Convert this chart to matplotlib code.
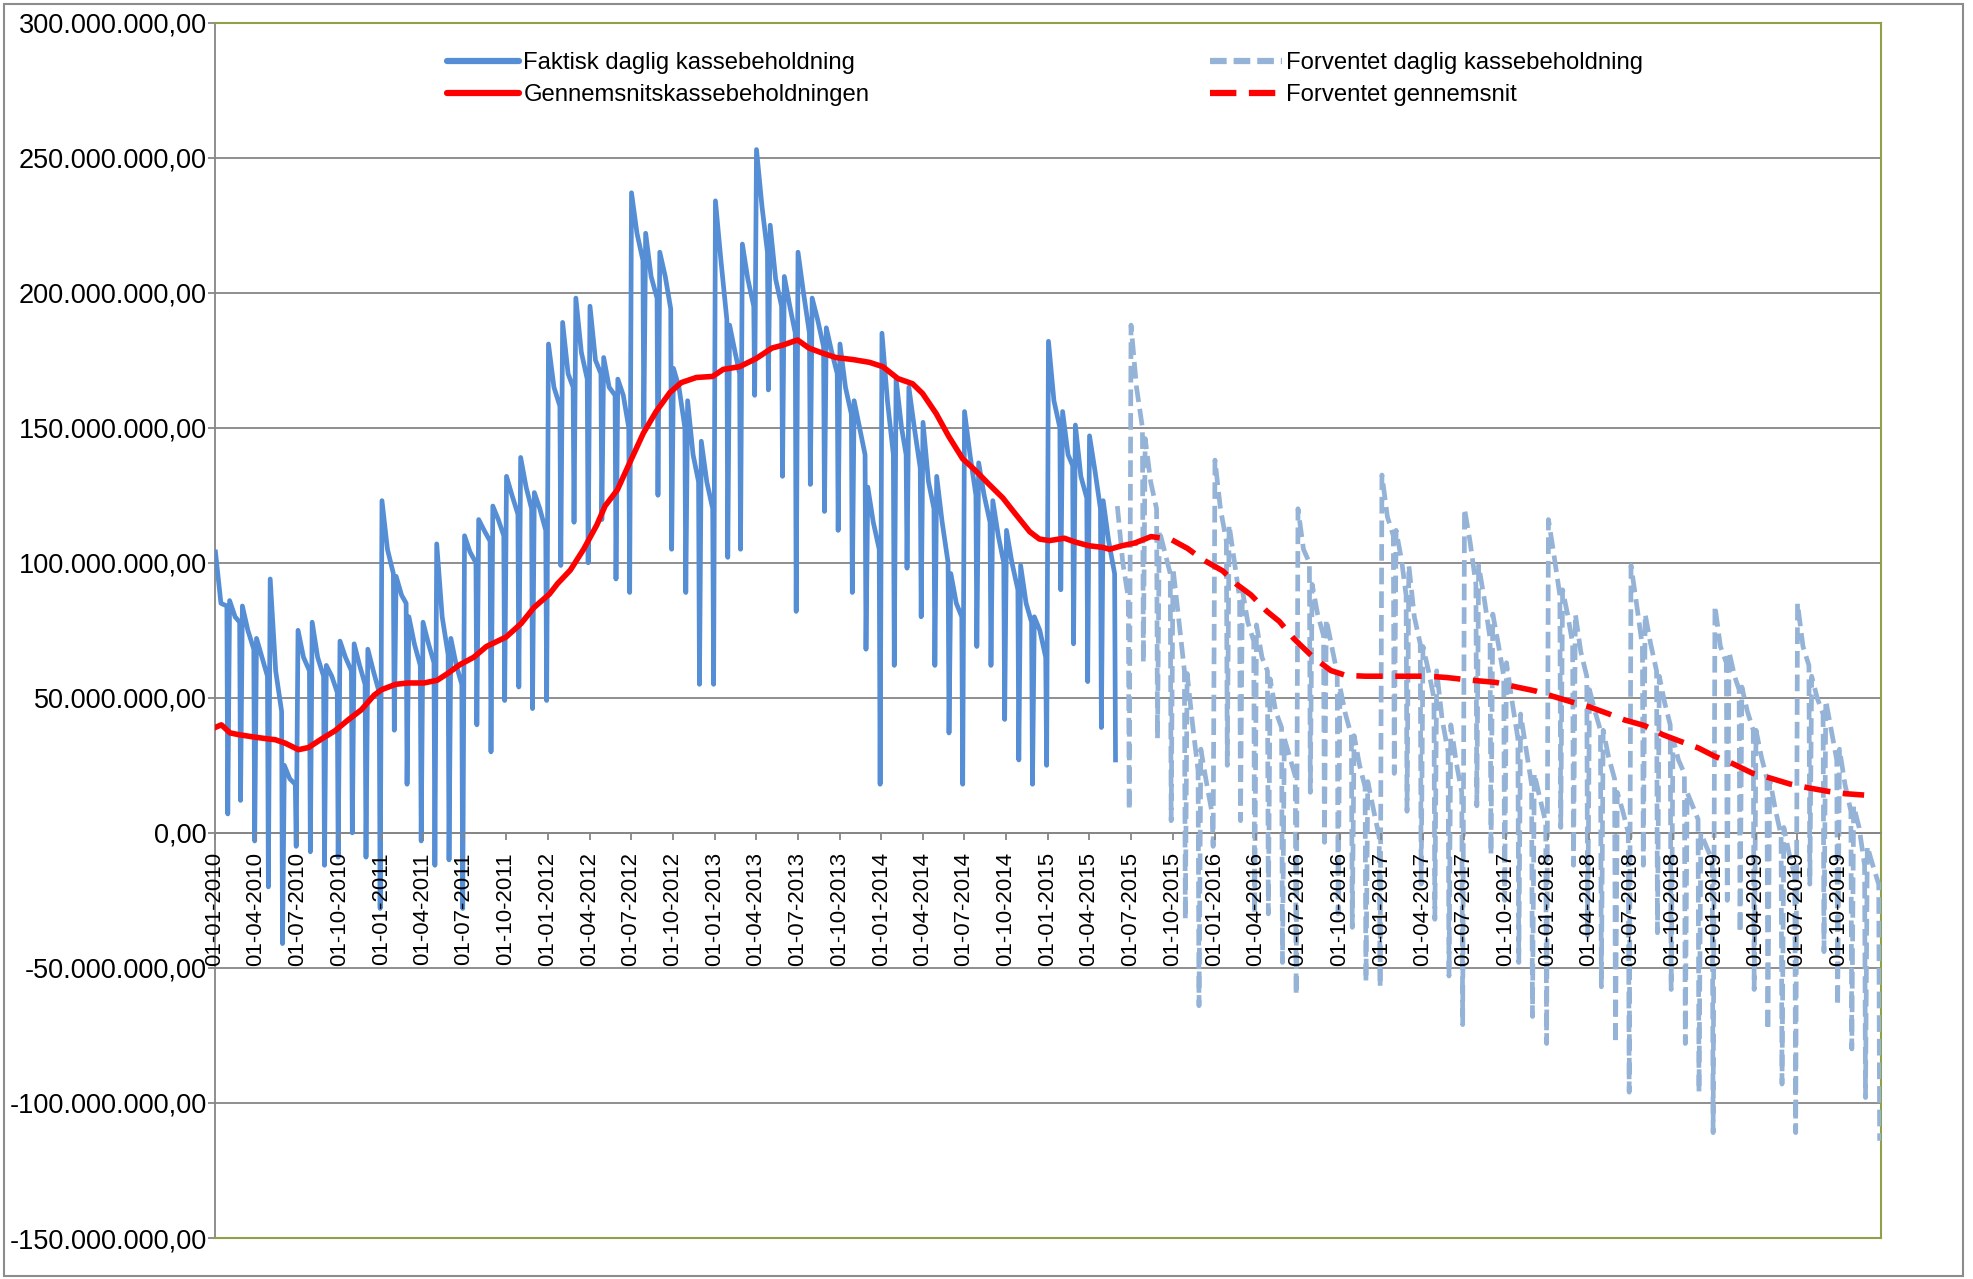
import numpy as np
import pandas as pd
import matplotlib
matplotlib.use("Agg")
import matplotlib.pyplot as plt
from matplotlib.lines import Line2D
from matplotlib.patches import Rectangle

plt.rcParams['font.family'] = ['Liberation Sans', 'DejaVu Sans']
plt.rcParams['lines.scale_dashes'] = False

# ---- data (million kr) ----
# actual daily cash balance, one group per month from 2010-01 to 2015-05:
# value just after the monthly top-up, mid month, before the month-end drop, month-end low
actual_start = '2010-01'
actual_peak = [104, 86, 84, 72, 94, 25, 75, 78, 62, 71, 70, 68,
               123, 95, 80, 78, 107, 72, 110, 116, 121, 132, 139, 126,
               181, 189, 198, 195, 176, 168, 237, 222, 215, 172, 160, 145,
               234, 188, 218, 253, 225, 206, 215, 198, 187, 181, 160, 128,
               185, 168, 165, 152, 132, 96, 156, 137, 123, 112, 99, 80,
               182, 156, 151, 147, 123]
actual_mid = [85, 80, 75, 65, 60, 20, 65, 65, 58, 65, 62, 60,
              105, 88, 70, 70, 80, 62, 104, 112, 116, 125, 128, 120,
              165, 170, 178, 175, 165, 162, 222, 206, 206, 165, 140, 130,
              212, 178, 205, 232, 205, 195, 200, 190, 178, 165, 150, 115,
              160, 150, 150, 130, 115, 85, 140, 125, 110, 100, 85, 75,
              160, 140, 132, 134, 108]
actual_end = [84, 78, 68, 58, 45, 18, 60, 58, 52, 60, 55, 52,
              96, 85, 62, 63, 66, 55, 100, 108, 110, 118, 120, 112,
              158, 165, 168, 170, 162, 150, 212, 198, 194, 150, 130, 120,
              190, 170, 195, 215, 195, 185, 185, 180, 170, 155, 140, 105,
              140, 140, 135, 120, 100, 80, 125, 115, 100, 90, 78, 65,
              150, 136, 124, 120, 96]
actual_low = [7, 12, -3, -20, -41, -5, -7, -12, -9, 0, -9, -28,
              38, 18, -3, -12, -10, -28, 40, 30, 49, 54, 46, 49,
              99, 115, 100, 116, 94, 89, 150, 125, 105, 89, 55, 55,
              102, 105, 162, 164, 132, 82, 129, 119, 112, 89, 68, 18,
              62, 98, 80, 62, 37, 18, 69, 62, 42, 27, 18, 25,
              90, 70, 56, 39, 27]

# expected daily cash balance, 2015-06 to 2019-12
forecast_start = '2015-06'
forecast_peak = [121, 188, 146, 112, 98, 59, 31,
                 138, 114, 90, 77, 57, 35, 120, 92, 79, 54, 36, 19,
                 132.5, 112, 99, 69, 60, 40, 120, 99, 81, 63, 44, 22,
                 116, 90, 81, 53, 38, 15, 99, 81, 58, 35, 15, 0,
                 84, 67, 54, 38, 20, 2, 85, 58, 49, 31, 10, -5]
forecast_mid = [100, 165, 130, 104, 80, 40, 19,
                120, 100, 78, 65, 45, 28, 105, 81, 69, 44, 25, 9,
                117, 101, 80, 60, 42, 26, 108, 87, 70, 49, 31, 13,
                103, 80, 67, 45, 28, 8, 85, 70, 48, 27, 10, -5,
                69, 58, 45, 28, 9, -8, 69, 50, 38, 18, 2, -12]
forecast_end = [87, 150, 120, 96, 60, 23, 7,
                108, 87, 71, 60, 39, 21, 100, 73, 59, 36, 17, -1.5,
                110, 88, 70, 50, 30, 15, 92, 72, 58, 35, 18, 4,
                88, 70, 58, 38, 20, 0, 69, 60, 40, 22, 5, -10,
                63, 53, 38, 20, -1, -16, 62, 44, 27, 8, -12, -19]
forecast_low = [8.5, 63, 35, 4.5, -32, -64, -5,
                25, 4.5, -30, -30, -48, -60, 15, -3.5, -30, -35, -55, -57,
                22, 8, -19, -32, -53, -71, 10, -8, -25, -48, -68, -78,
                2, -12, -38, -57, -78, -96, -12, -37, -58, -78, -96, -111,
                -25, -37, -58, -73, -93, -111, -19, -44, -64, -80, -98, -114]

# average cash balance (solid) and expected average (dashed)
avg_dates = ['2010-01-01', '2010-01-15', '2010-02-03', '2010-02-24', '2010-03-27', '2010-05-01',
             '2010-05-13', '2010-06-04', '2010-07-03', '2010-07-25', '2010-08-22', '2010-09-21',
             '2010-10-19', '2010-11-18', '2010-12-16', '2011-01-01', '2011-02-01', '2011-02-28',
             '2011-04-04', '2011-05-03', '2011-05-25', '2011-06-22', '2011-07-22', '2011-08-19',
             '2011-10-01', '2011-11-03', '2011-12-01', '2012-01-04', '2012-01-22', '2012-02-19',
             '2012-03-19', '2012-04-17', '2012-05-05', '2012-06-01', '2012-06-28', '2012-07-28',
             '2012-08-25', '2012-09-24', '2012-10-19', '2012-11-21', '2012-12-27', '2013-01-19',
             '2013-02-24', '2013-04-01', '2013-05-06', '2013-05-28', '2013-07-01', '2013-07-26',
             '2013-08-25', '2013-09-23', '2013-11-01', '2013-12-06', '2014-01-04', '2014-02-06',
             '2014-03-10', '2014-04-01', '2014-05-01', '2014-05-28', '2014-06-28', '2014-07-27',
             '2014-08-25', '2014-09-24', '2014-10-22', '2014-11-22', '2014-12-13', '2015-01-04',
             '2015-02-06', '2015-03-01', '2015-04-01', '2015-05-01', '2015-05-16', '2015-06-12',
             '2015-07-10']
avg_values = [39, 40, 37, 36.3, 35.5, 34.7, 34.5, 33.2, 30.8, 31.6, 34.7, 37.8,
              41.7, 45.6, 51, 53, 55, 55.5, 55.5, 56.5, 58.9, 62.3, 65, 69,
              72.5, 77.5, 83.4, 88.4, 92.3, 97.3, 105, 114, 121, 127, 137, 148,
              156, 163, 166.7, 168.6, 169, 171.6, 172.6, 175.6, 179.5, 180.5, 182.5, 179.5,
              177.6, 176, 175.2, 174.2, 172.6, 168.2, 166.3, 162.7, 155.2, 146.9, 138.5, 134,
              129, 124, 118, 111.5, 108.8, 108.2, 109.1, 107.7, 106.3, 105.7, 105, 106.3,
              107.3]
exp_avg_dates = ['2015-07-10', '2015-08-15', '2015-09-27', '2015-11-03', '2015-12-06', '2016-01-19',
                 '2016-02-18', '2016-03-21', '2016-04-25', '2016-05-22', '2016-06-23', '2016-08-03',
                 '2016-09-12', '2016-10-15', '2016-11-27', '2017-01-12', '2017-03-01', '2017-04-15',
                 '2017-05-25', '2017-07-06', '2017-09-09', '2017-10-27', '2017-12-03', '2018-01-15',
                 '2018-03-01', '2018-04-01', '2018-05-12', '2018-06-18', '2018-08-01', '2018-09-09',
                 '2018-10-15', '2018-11-27', '2019-01-01', '2019-02-09', '2019-03-25', '2019-05-03',
                 '2019-06-15', '2019-07-25', '2019-09-09', '2019-10-15', '2019-11-25']
exp_avg_values = [107.3, 109.7, 108.7, 105.3, 101.2, 97, 92.1, 88.1, 82, 78.3, 71.9, 65.2,
                  60.1, 58.3, 58, 58, 58, 58, 57.5, 56.7, 55.7, 53.9, 52.6, 50.4,
                  48.1, 46.7, 44.2, 41.8, 39.7, 36.4, 34.1, 31.4, 28.4, 25.7, 22.1, 20.3,
                  18.1, 16.7, 15.3, 14.5, 14]

labels = ['Faktisk daglig kassebeholdning', 'Gennemsnitskassebeholdningen',
          'Forventet daglig kassebeholdning', 'Forventet gennemsnit']


def monthly_path(start, peaks, mids, ends, lows):
    """turn the monthly readings into a saw tooth path"""
    months = pd.period_range(start, periods=len(peaks), freq='M')
    xs, ys = [], []
    for m, a, b, c, d in zip(months, peaks, mids, ends, lows):
        last = m.days_in_month
        for day, v in ((2, a), (14, b), (last - 4, c), (last - 2, d)):
            xs.append(pd.Timestamp(m.year, m.month, day))
            ys.append(v * 1e6)
    return xs, ys


def money(v, pos=None):
    s = f"{v:,.2f}"
    return s.replace(',', 'X').replace('.', ',').replace('X', '.')


W, H = 1973, 1279
fig = plt.figure(figsize=(W / 100, H / 100), dpi=100)
ax = fig.add_axes([215 / W, 1 - 1238 / H, 1666 / W, (1238 - 22.6) / H])

grey = '#868686'
olive = '#8EA04A'
c_actual = '#558ED5'
c_forecast = '#95B3D7'
c_avg = '#FF0000'
dash_fc = (0, (12, 5))
dash_avg = (0, (19, 9))

fx, fy = monthly_path(forecast_start, forecast_peak, forecast_mid, forecast_end, forecast_low)
ax.plot(fx, fy, color=c_forecast, lw=3.4, ls=dash_fc, zorder=3)
axx, axy = monthly_path(actual_start, actual_peak, actual_mid, actual_end, actual_low)
ax.plot(axx, axy, color=c_actual, lw=3.4, zorder=4)
ax.plot(pd.to_datetime(exp_avg_dates), np.array(exp_avg_values) * 1e6, color=c_avg,
        lw=4, ls=dash_avg, zorder=5)
ax.plot(pd.to_datetime(avg_dates), np.array(avg_values) * 1e6, color=c_avg, lw=4, zorder=6)

ax.set_xlim(pd.Timestamp('2010-01-01'), pd.Timestamp('2020-01-01'))
ax.set_ylim(-150e6, 300e6)
ax.set_yticks(np.arange(-150e6, 300e6 + 1, 50e6))
ax.yaxis.set_major_formatter(plt.FuncFormatter(money))
ticks = pd.date_range('2010-01-01', '2019-10-01', freq='QS')
ax.set_xticks(ticks)
ax.grid(axis='y', color=grey, lw=1.3)
ax.set_axisbelow(True)

ax.spines['bottom'].set_position(('data', 0))
ax.spines['bottom'].set_color(grey)
ax.spines['left'].set_color(grey)
ax.spines['bottom'].set_linewidth(1.3)
ax.spines['left'].set_linewidth(1.3)
for s in ('top', 'right'):
    ax.spines[s].set_color(olive)
    ax.spines[s].set_linewidth(1.5)
ax.axhline(-150e6, color=olive, lw=1.5, clip_on=False, zorder=2.6)
ax.tick_params(axis='y', length=5, width=1.3, color=grey, pad=0.8, labelsize=19.5)
ax.tick_params(axis='x', length=5, width=1.3, color=grey, pad=9, labelsize=16,
               labelrotation=90)
ax.set_xticklabels([t.strftime('%d-%m-%Y') for t in ticks], va='top', ha='center')
ax.xaxis.set_zorder(10)

h = [Line2D([], [], color=c_actual, lw=4.5, solid_capstyle='round'),
     Line2D([], [], color=c_avg, lw=4.5, solid_capstyle='round'),
     Line2D([], [], color=c_forecast, lw=4.5, ls=dash_fc),
     Line2D([], [], color=c_avg, lw=4.5, ls=dash_avg)]
leg_kw = dict(frameon=False, fontsize=17.2, handlelength=3.0, handletextpad=0.2,
              labelspacing=0.42, borderpad=0, borderaxespad=0, loc='upper left')
leg1 = fig.legend(h[:2], labels[:2], bbox_to_anchor=(447 / W, 1 - 52 / H), **leg_kw)
leg2 = fig.legend(h[2:], labels[2:], bbox_to_anchor=(1210 / W, 1 - 52 / H), **leg_kw)

fig.patches.append(Rectangle((4 / W, 3 / H), 1959 / W, 1272 / H, transform=fig.transFigure,
                             fill=False, edgecolor='#8C8C8C', lw=1.5))

fig.savefig('out.png', dpi=100, facecolor='white')
